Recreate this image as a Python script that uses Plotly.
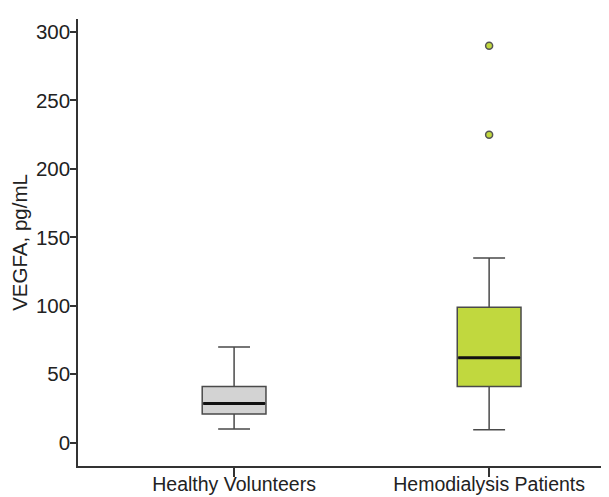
import plotly.graph_objects as go

categories = ["Healthy Volunteers", "Hemodialysis Patients"]
lower_whisker = [10, 9.5]
q1 = [21, 41]
median = [28.7, 62]
q3 = [41, 99]
upper_whisker = [70, 135]
outlier_group = [1, 1]
outlier_values = [290, 225]
fill_colors = ["#d3d3d3", "#c1d83e"]
y_ticks = [0, 50, 100, 150, 200, 250, 300]

box_w = 0.25
fig = go.Figure()
for i, cat in enumerate(categories):
    fig.add_trace(go.Box(
        x=[i], q1=[q1[i]], median=[median[i]], q3=[q3[i]],
        lowerfence=[lower_whisker[i]], upperfence=[upper_whisker[i]],
        width=box_w, whiskerwidth=0.5, fillcolor=fill_colors[i],
        line=dict(color="#4a4a4a", width=1.5), boxpoints=False,
        showlegend=False, hoverinfo="skip"))
    fig.add_trace(go.Scatter(
        x=[i - box_w / 2 + 0.004, i + box_w / 2 - 0.004], y=[median[i], median[i]],
        mode="lines", line=dict(color="#111111", width=3),
        showlegend=False, hoverinfo="skip"))

fig.add_trace(go.Scatter(
    x=outlier_group, y=outlier_values, mode="markers",
    marker=dict(color=fill_colors[1], size=7, line=dict(color="#555555", width=1.5)),
    showlegend=False, hoverinfo="skip"))

font = "Liberation Sans, Arial, sans-serif"
# page body has an 8px default margin, so the figure is shifted by 8px
fig.update_layout(
    width=601, height=489,
    margin=dict(l=70, r=0, t=11, b=31),
    plot_bgcolor="white", paper_bgcolor="white",
    font=dict(family=font, size=20.5, color="#222222"),
    xaxis=dict(range=[-0.612, 1.47], tickvals=[0, 1], ticktext=categories,
               showgrid=False, zeroline=False, showline=True, linecolor="#333333",
               linewidth=1.5, ticks="outside", ticklen=9, tickcolor="#333333",
               tickwidth=1.5, tickfont=dict(size=19.5), automargin=False,
               ticklabelstandoff=-9),
    yaxis=dict(range=[-17, 309.5], tickvals=y_ticks,
               showgrid=False, zeroline=False, showline=True, linecolor="#333333",
               linewidth=1.5, ticks="outside", ticklen=6, tickcolor="#333333",
               tickwidth=1.5, tickfont=dict(size=20.5), automargin=False,
               ticklabelstandoff=-4,
               title=dict(text="VEGFA, pg/mL", font=dict(size=20.5), standoff=3)),
)
fig.write_html("out.html")
